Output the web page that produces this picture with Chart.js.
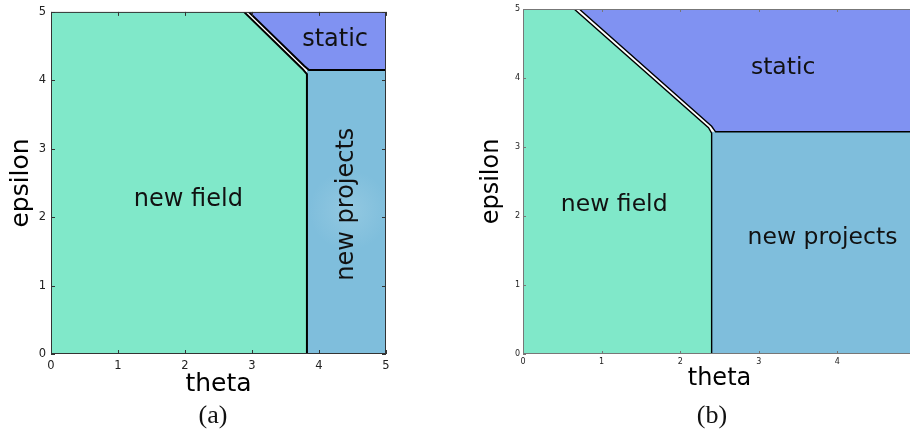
<!DOCTYPE html>
<html>
<head>
<meta charset="utf-8">
<script src="https://cdn.jsdelivr.net/npm/chart.js@4.4.0/dist/chart.umd.min.js"></script>
<style>
    html, body { margin: 0; padding: 0; background: #fff; overflow: hidden; width: 910px; height: 436px; }
    canvas { position: absolute; top: 0; }
    #chartA { left: 0; width: 460px; height: 436px; }
    #chartB { left: 470px; width: 470px; height: 436px; }
    .caption {
        position: absolute;
        font-family: 'Liberation Serif', 'DejaVu Serif', serif;
        font-size: 26px;
        color: #111;
        transform: translate(-50%, -50%);
    }
</style>
</head>
<body>
<canvas id="chartA" width="460" height="436"></canvas>
<canvas id="chartB" width="470" height="436"></canvas>
<div class="caption" style="left:213px; top:415px">(a)</div>
<div class="caption" style="left:712px; top:415px">(b)</div>
<script>
// Valores dos eixos
const tickValues = [0, 1, 2, 3, 4, 5];

// Painel (a): contornos das regiões (theta, epsilon)
const fieldThetaA = [0, 0, 2.88, 3.75, 3.82, 3.82];
const fieldEpsA = [0, 5, 5, 4.17, 4.09, 0];
const staticThetaA = [2.95, 3.78, 3.85, 5, 5];
const staticEpsA = [5, 4.21, 4.15, 4.15, 5];
const projThetaA = [3.82, 3.82, 5, 5];
const projEpsA = [0, 4.15, 4.15, 0];

// Painel (b)
const fieldThetaB = [0, 0, 0.65, 2.36, 2.40, 2.40];
const fieldEpsB = [0, 5, 5, 3.28, 3.20, 0];
const staticThetaB = [0.715, 2.40, 2.45, 5, 5];
const staticEpsB = [5, 3.30, 3.22, 3.22, 5];
const projThetaB = [2.40, 2.40, 5, 5];
const projEpsB = [0, 3.22, 3.22, 0];

// Rótulos das regiões
const regionNames = ['new field', 'static', 'new projects'];
const labelThetaA = [2.05, 4.24, 4.41];
const labelEpsA = [2.26, 4.60, 2.19];
const labelThetaB = [1.16, 3.31, 3.81];
const labelEpsB = [2.16, 4.15, 1.68];

const colors = {
    field: '#80e8c9',
    static: '#8092f2',
    proj: '#7fbedc'
};

function toPoints(thetas, eps) {
    return thetas.map((t, i) => ({ x: t, y: eps[i] }));
}

// order maior = desenhado mais abaixo
function regionDataset(points, color, order) {
    return {
        data: points,
        backgroundColor: color,
        borderWidth: 0,
        pointRadius: 0,
        tension: 0,
        fill: 'shape',
        order: order
    };
}

function edgeDataset(points, width) {
    return {
        data: points,
        borderColor: '#000',
        borderWidth: width,
        pointRadius: 0,
        tension: 0,
        fill: false,
        order: 0
    };
}

// Moldura, marcas internas dos eixos e textos das regiões
const decorPlugin = {
    id: 'decor',
    afterDatasetsDraw(chart, args, opts) {
        const { ctx, chartArea: a, scales: { x, y } } = chart;
        ctx.save();

        // brilho suave (painel a)
        if (opts.glow) {
            const gx = x.getPixelForValue(opts.glow[0]);
            const gy = y.getPixelForValue(opts.glow[1]);
            const g = ctx.createRadialGradient(gx, gy, 0, gx, gy, 40);
            g.addColorStop(0, 'rgba(175, 215, 232, 0.4)');
            g.addColorStop(1, 'rgba(175, 215, 232, 0)');
            ctx.fillStyle = g;
            ctx.fillRect(gx - 40, gy - 40, 80, 80);
        }

        ctx.strokeStyle = opts.frameColor;
        ctx.lineWidth = 1;
        ctx.strokeRect(a.left + 0.5, a.top + 0.5, a.right - a.left - 1, a.bottom - a.top - 1);

        ctx.beginPath();
        tickValues.forEach(v => {
            const px = Math.round(x.getPixelForValue(v)) + 0.5;
            const py = Math.round(y.getPixelForValue(v)) + 0.5;
            ctx.moveTo(px, a.bottom); ctx.lineTo(px, a.bottom - opts.tickLen);
            ctx.moveTo(px, a.top); ctx.lineTo(px, a.top + opts.tickLen);
            ctx.moveTo(a.left, py); ctx.lineTo(a.left + opts.tickLen, py);
            ctx.moveTo(a.right, py); ctx.lineTo(a.right - opts.tickLen, py);
        });
        ctx.stroke();

        ctx.fillStyle = '#111';
        ctx.font = opts.fontSize + 'px "DejaVu Sans"';
        ctx.textAlign = 'center';
        ctx.textBaseline = 'middle';
        regionNames.forEach((name, i) => {
            const px = x.getPixelForValue(opts.thetas[i]);
            const py = y.getPixelForValue(opts.eps[i]);
            ctx.save();
            ctx.translate(px, py);
            if (opts.vertical && name === 'new projects') ctx.rotate(-Math.PI / 2);
            ctx.fillText(name, 0, 0);
            ctx.restore();
        });
        ctx.restore();
    }
};

function createPhaseChart(elementId, cfg) {
    const ctx = document.getElementById(elementId).getContext('2d');
    return new Chart(ctx, {
        type: 'line',
        data: {
            datasets: [
                // fronteiras: borda da região verde e borda da região estática
                edgeDataset(toPoints(cfg.fieldTheta.slice(2), cfg.fieldEps.slice(2)), cfg.lineWidth),
                edgeDataset(toPoints(cfg.staticTheta.slice(0, 4), cfg.staticEps.slice(0, 4)), cfg.lineWidth),
                regionDataset(toPoints(cfg.fieldTheta, cfg.fieldEps), colors.field, 1),
                regionDataset(toPoints(cfg.staticTheta, cfg.staticEps), colors.static, 2),
                regionDataset(toPoints(cfg.projTheta, cfg.projEps), colors.proj, 3)
            ]
        },
        options: {
            responsive: false,
            animation: false,
            events: [],
            layout: { padding: cfg.padding },
            plugins: {
                legend: { display: false },
                tooltip: { enabled: false },
                decor: {
                    thetas: cfg.labelTheta,
                    eps: cfg.labelEps,
                    vertical: cfg.vertical,
                    fontSize: cfg.labelSize,
                    frameColor: cfg.frameColor,
                    tickLen: cfg.tickLen,
                    glow: cfg.glow
                }
            },
            scales: {
                x: {
                    type: 'linear',
                    min: 0,
                    max: 5,
                    afterFit: function(scale) { scale.height = cfg.xHeight; },
                    ticks: {
                        stepSize: 1,
                        padding: cfg.tickPad,
                        color: '#222',
                        maxRotation: 0,
                        font: { family: 'DejaVu Sans', size: cfg.tickSize }
                    },
                    grid: { display: false, drawTicks: false },
                    border: { display: false },
                    title: {
                        display: true,
                        text: 'theta',
                        color: '#000',
                        padding: 0,
                        font: { family: 'DejaVu Sans', size: cfg.titleSize, lineHeight: 1 }
                    }
                },
                y: {
                    type: 'linear',
                    min: 0,
                    max: 5,
                    afterFit: function(scale) { scale.width = cfg.yWidth; },
                    ticks: {
                        stepSize: 1,
                        padding: cfg.tickPad,
                        color: '#222',
                        font: { family: 'DejaVu Sans', size: cfg.tickSize }
                    },
                    grid: { display: false, drawTicks: false },
                    border: { display: false },
                    title: {
                        display: true,
                        text: 'epsilon',
                        color: '#000',
                        padding: { top: cfg.yTitlePad, bottom: 0 },
                        font: { family: 'DejaVu Sans', size: cfg.titleSize, lineHeight: 1 }
                    }
                }
            }
        },
        plugins: [decorPlugin]
    });
}

createPhaseChart('chartA', {
    fieldTheta: fieldThetaA, fieldEps: fieldEpsA,
    staticTheta: staticThetaA, staticEps: staticEpsA,
    projTheta: projThetaA, projEps: projEpsA,
    labelTheta: labelThetaA, labelEps: labelEpsA,
    vertical: true,
    labelSize: 24,
    titleSize: 25,
    tickSize: 11.5,
    tickPad: 5,
    tickLen: 4,
    lineWidth: 2,
    frameColor: '#333',
    glow: [4.45, 2.1],
    yWidth: 51,
    xHeight: 43,
    yTitlePad: 9,
    padding: { top: 10, right: 74, bottom: 39, left: 0 }
});

createPhaseChart('chartB', {
    fieldTheta: fieldThetaB, fieldEps: fieldEpsB,
    staticTheta: staticThetaB, staticEps: staticEpsB,
    projTheta: projThetaB, projEps: projEpsB,
    labelTheta: labelThetaB, labelEps: labelEpsB,
    vertical: false,
    labelSize: 23.5,
    titleSize: 24,
    tickSize: 8,
    tickPad: 3,
    tickLen: 3,
    lineWidth: 1.4,
    frameColor: '#777',
    glow: null,
    yWidth: 53,
    xHeight: 37,
    yTitlePad: 10,
    padding: { top: 9, right: 24, bottom: 45, left: 0 }
});
</script>
</body>
</html>
